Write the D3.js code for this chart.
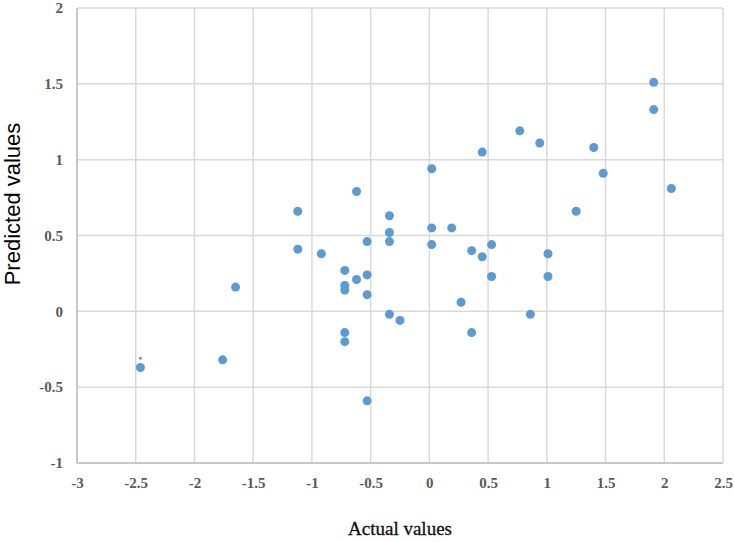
<!DOCTYPE html>
<html>
<head>
<meta charset="utf-8">
<script src="https://cdn.jsdelivr.net/npm/d3@7"></script>
<style>
  html, body { margin: 0; padding: 0; background: #fff; }
  svg { display: block; }
  .serif { font-family: "Liberation Serif", "Tinos", "Times New Roman", "DejaVu Serif", serif; }
  .sans { font-family: "Liberation Sans", Arial, "DejaVu Sans", sans-serif; }
</style>
</head>
<body>
<svg id="chart" width="734" height="542"></svg>
<script>
// Data
const actualValues = [
  -2.46, -1.76, -1.65, -1.12, -1.12, -0.92,
  -0.72, -0.72, -0.72, -0.72, -0.72,
  -0.62, -0.62, -0.53, -0.53, -0.53, -0.53,
  -0.34, -0.34, -0.34, -0.34, -0.25,
  0.02, 0.02, 0.02, 0.19, 0.27, 0.36, 0.36, 0.45, 0.45,
  0.53, 0.53, 0.77, 0.86, 0.94, 1.01, 1.01, 1.25, 1.40, 1.48,
  1.91, 1.91, 2.06
];
const predictedValues = [
  -0.37, -0.32, 0.16, 0.66, 0.41, 0.38,
  0.27, 0.17, 0.14, -0.14, -0.20,
  0.79, 0.21, 0.46, 0.24, 0.11, -0.59,
  0.63, 0.52, 0.46, -0.02, -0.06,
  0.94, 0.55, 0.44, 0.55, 0.06, 0.40, -0.14, 1.05, 0.36,
  0.44, 0.23, 1.19, -0.02, 1.11, 0.38, 0.23, 0.66, 1.08, 0.91,
  1.51, 1.33, 0.81
];
// tiny stray marker seen just above the left-most point
const strayActual = [-2.46];
const strayPredicted = [-0.31];

const xTicks = [-3, -2.5, -2, -1.5, -1, -0.5, 0, 0.5, 1, 1.5, 2, 2.5];
const yTicks = [-1, -0.5, 0, 0.5, 1, 1.5, 2];

(function () {
const svg = d3.select("#chart");
const mLeft = 77, mRight = 723, mTop = 8, mBottom = 463;

const x = d3.scaleLinear().domain([-3, 2.5]).range([mLeft, mRight]);
const y = d3.scaleLinear().domain([-1, 2]).range([mBottom, mTop]);

// Gridlines
svg.append("g")
  .selectAll("line")
  .data(xTicks)
  .join("line")
  .attr("x1", d => x(d)).attr("x2", d => x(d))
  .attr("y1", mTop).attr("y2", mBottom)
  .attr("stroke", "#d9d9d9").attr("stroke-width", 1.5);

svg.append("g")
  .selectAll("line")
  .data(yTicks)
  .join("line")
  .attr("x1", mLeft).attr("x2", mRight)
  .attr("y1", d => y(d)).attr("y2", d => y(d))
  .attr("stroke", "#d9d9d9").attr("stroke-width", 1.5);

// Axis lines
svg.append("line")
  .attr("x1", mLeft).attr("x2", mLeft).attr("y1", mTop).attr("y2", mBottom)
  .attr("stroke", "#c8c8c8").attr("stroke-width", 2);
svg.append("line")
  .attr("x1", mLeft).attr("x2", mRight).attr("y1", mBottom).attr("y2", mBottom)
  .attr("stroke", "#c8c8c8").attr("stroke-width", 2);

// Axes (labels only)
const fmt = d => String(d);
const xAxis = svg.append("g")
  .attr("transform", `translate(0,${mBottom})`)
  .call(d3.axisBottom(x).tickValues(xTicks).tickFormat(fmt).tickSize(0).tickPadding(14));
const yAxis = svg.append("g")
  .attr("transform", `translate(${mLeft},0)`)
  .call(d3.axisLeft(y).tickValues(yTicks).tickFormat(fmt).tickSize(0).tickPadding(14));

[xAxis, yAxis].forEach(a => {
  a.attr("font-family", null).attr("font-size", null);
  a.select(".domain").remove();
  a.selectAll("text")
    .attr("class", "serif")
    .style("font-weight", "bold")
    .style("font-size", "15px")
    .attr("fill", "#595959");
});

// Points
svg.append("g")
  .selectAll("circle")
  .data(actualValues.map((d, i) => [d, predictedValues[i]]))
  .join("circle")
  .attr("cx", d => x(d[0]))
  .attr("cy", d => y(d[1]))
  .attr("r", 4.5)
  .attr("fill", "#5b9bd5");

svg.append("g")
  .selectAll("circle")
  .data(strayActual.map((d, i) => [d, strayPredicted[i]]))
  .join("circle")
  .attr("cx", d => x(d[0]))
  .attr("cy", d => y(d[1]))
  .attr("r", 1.5)
  .attr("fill", "#5b9bd5");

// Axis titles
svg.append("text")
  .attr("class", "serif")
  .attr("x", (mLeft + mRight) / 2)
  .attr("y", 535)
  .attr("text-anchor", "middle")
  .style("font-size", "19px")
  .attr("fill", "#111")
  .attr("stroke", "#111")
  .attr("stroke-width", 0.3)
  .text("Actual values");

svg.append("text")
  .attr("class", "sans")
  .attr("transform", "translate(20,204) rotate(-90)")
  .attr("text-anchor", "middle")
  .style("font-size", "22px")
  .attr("fill", "#000")
  .text("Predicted values");
})();
</script>
</body>
</html>
